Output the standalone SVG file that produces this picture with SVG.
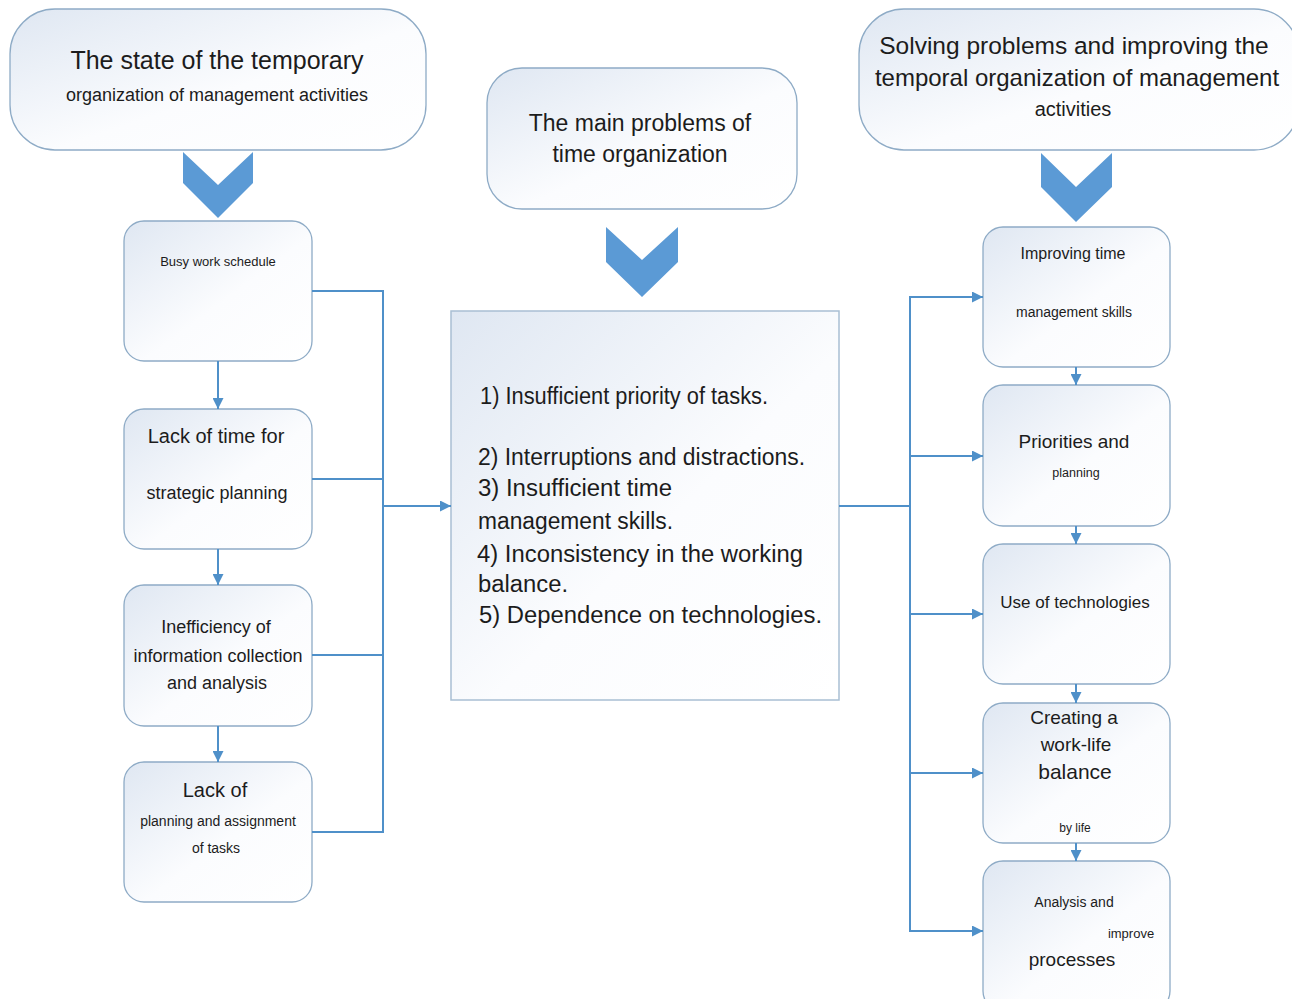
<svg xmlns="http://www.w3.org/2000/svg" width="1292" height="999" viewBox="0 0 1292 999">
  <style>
    .box { fill: url(#boxFill); stroke: #8eabc6; stroke-width: 1.3; }
    .sq { fill: url(#boxFill); stroke: #a9bfd3; stroke-width: 1.5; }
    .chev { fill: #5b9ad5; }
    .wire { fill: none; stroke: #4f90c9; stroke-width: 2; }
    .arr { fill: none; stroke: #4f90c9; stroke-width: 2; marker-end: url(#head); }
    text { font-family: "Liberation Sans", Arial, sans-serif; fill: #1c1c1c; }
    .c { text-anchor: middle; }
    .list { font-size: 23px; }
  </style>
  <defs>
    <linearGradient id="boxFill" x1="0" y1="0" x2="1" y2="1">
      <stop offset="0" stop-color="#dfe7f2"/>
      <stop offset="0.55" stop-color="#fbfcfe"/>
      <stop offset="1" stop-color="#ffffff"/>
    </linearGradient>
    <marker id="head" viewBox="0 0 10 10" refX="10" refY="5" markerWidth="11" markerHeight="11" markerUnits="userSpaceOnUse" orient="auto">
      <path d="M0,0 L10,5 L0,10 z" fill="#4f90c9"/>
    </marker>
  </defs>

  <!-- Headers -->
  <g id="header-state">
    <rect class="box" x="10" y="9" width="416" height="141" rx="45"/>
    <text class="c" x="217" y="69" font-size="25">The state of the temporary</text>
    <text class="c" x="217" y="101" font-size="18">organization of management activities</text>
  </g>
  <g id="header-problems">
    <rect class="box" x="487" y="68" width="310" height="141" rx="35"/>
    <text class="c" x="640" y="131" font-size="23">The main problems of</text>
    <text class="c" x="640" y="162" font-size="23">time organization</text>
  </g>
  <g id="header-solving">
    <rect class="box" x="859" y="9" width="440" height="141" rx="45"/>
    <text class="c" x="1074" y="54" font-size="24.5">Solving problems and improving the</text>
    <text class="c" x="1077" y="86" font-size="24">temporal organization of management</text>
    <text class="c" x="1073" y="116" font-size="20">activities</text>
  </g>

  <!-- Chevrons -->
  <g id="chevron-left"><path class="chev" d="M183,152 L218,185 L253,152 L253,183 L218,218 L183,183 z"/></g>
  <g id="chevron-mid"><path class="chev" d="M606,227 L642,260 L678,227 L678,262 L642,297 L606,262 z"/></g>
  <g id="chevron-right"><path class="chev" d="M1041,153 L1076,187 L1112,153 L1112,187 L1076,222 L1041,187 z"/></g>

  <!-- Left column -->
  <g id="left-1">
    <rect class="box" x="124" y="221" width="188" height="140" rx="20"/>
    <text class="c" x="218" y="266" font-size="13">Busy work schedule</text>
  </g>
  <g id="left-2">
    <rect class="box" x="124" y="409" width="188" height="140" rx="20"/>
    <text class="c" x="216" y="443" font-size="20">Lack of time for</text>
    <text class="c" x="217" y="499" font-size="18">strategic planning</text>
  </g>
  <g id="left-3">
    <rect class="box" x="124" y="585" width="188" height="141" rx="20"/>
    <text class="c" x="216" y="633" font-size="18">Inefficiency of</text>
    <text class="c" x="218" y="662" font-size="18">information collection</text>
    <text class="c" x="217" y="689" font-size="18">and analysis</text>
  </g>
  <g id="left-4">
    <rect class="box" x="124" y="762" width="188" height="140" rx="20"/>
    <text class="c" x="215" y="797" font-size="20">Lack of</text>
    <text class="c" x="218" y="826" font-size="14">planning and assignment</text>
    <text class="c" x="216" y="853" font-size="14">of tasks</text>
  </g>

  <!-- Centre list -->
  <g id="problems-list">
    <rect class="sq" x="451" y="311" width="388" height="389"/>
    <text class="list" x="480" y="404" textLength="288" lengthAdjust="spacingAndGlyphs">1) Insufficient priority of tasks.</text>
    <text class="list" x="478" y="465" textLength="327" lengthAdjust="spacingAndGlyphs">2) Interruptions and distractions.</text>
    <text class="list" x="478" y="496" textLength="194" lengthAdjust="spacingAndGlyphs">3) Insufficient time</text>
    <text class="list" x="478" y="529" textLength="195" lengthAdjust="spacingAndGlyphs">management skills.</text>
    <text class="list" x="477" y="562" textLength="326" lengthAdjust="spacingAndGlyphs">4) Inconsistency in the working</text>
    <text class="list" x="478" y="592" textLength="90" lengthAdjust="spacingAndGlyphs">balance.</text>
    <text class="list" x="479" y="623" textLength="343" lengthAdjust="spacingAndGlyphs">5) Dependence on technologies.</text>
  </g>

  <!-- Right column -->
  <g id="right-1">
    <rect class="box" x="983" y="227" width="187" height="140" rx="20"/>
    <text class="c" x="1073" y="259" font-size="16">Improving time</text>
    <text class="c" x="1074" y="317" font-size="14">management skills</text>
  </g>
  <g id="right-2">
    <rect class="box" x="983" y="385" width="187" height="141" rx="20"/>
    <text class="c" x="1074" y="448" font-size="19">Priorities and</text>
    <text class="c" x="1076" y="477" font-size="12.5">planning</text>
  </g>
  <g id="right-3">
    <rect class="box" x="983" y="544" width="187" height="140" rx="20"/>
    <text class="c" x="1075" y="608" font-size="17">Use of technologies</text>
  </g>
  <g id="right-4">
    <rect class="box" x="983" y="703" width="187" height="140" rx="20"/>
    <text class="c" x="1074" y="724" font-size="19">Creating a</text>
    <text class="c" x="1076" y="751" font-size="19">work-life</text>
    <text class="c" x="1075" y="779" font-size="21">balance</text>
    <text class="c" x="1075" y="832" font-size="12">by life</text>
  </g>
  <g id="right-5">
    <rect class="box" x="983" y="861" width="187" height="150" rx="20"/>
    <text class="c" x="1074" y="907" font-size="14">Analysis and</text>
    <text class="c" x="1131" y="938" font-size="13">improve</text>
    <text class="c" x="1072" y="966" font-size="19">processes</text>
  </g>

  <!-- Connectors -->
  <g id="connectors">
    <path class="arr" d="M218,361 V409"/>
    <path class="arr" d="M218,549 V585"/>
    <path class="arr" d="M218,726 V762"/>
    <path class="wire" d="M312,291 H383 M312,479 H383 M312,655 H383 M312,832 H383 M383,290 V833"/>
    <path class="arr" d="M383,506 H451"/>
    <path class="wire" d="M839,506 H910 M910,296 V932"/>
    <path class="arr" d="M909,297 H983"/>
    <path class="arr" d="M909,456 H983"/>
    <path class="arr" d="M909,614 H983"/>
    <path class="arr" d="M909,773 H983"/>
    <path class="arr" d="M909,931 H983"/>
    <path class="arr" d="M1076,367 V385"/>
    <path class="arr" d="M1076,526 V544"/>
    <path class="arr" d="M1076,684 V703"/>
    <path class="arr" d="M1076,843 V861"/>
  </g>
</svg>
